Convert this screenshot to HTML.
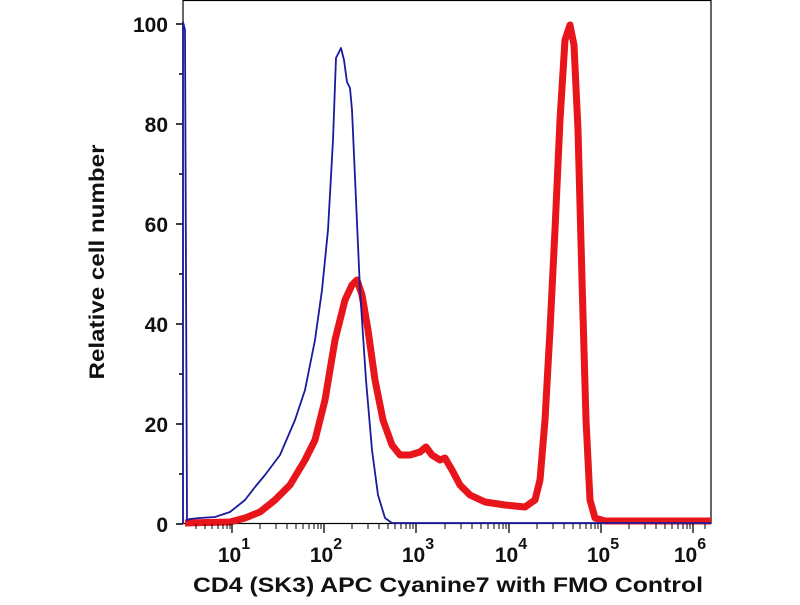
<!DOCTYPE html>
<html><head><style>
body{margin:0;background:#fff;}
svg text{font-family:"Liberation Sans",Arial,sans-serif;font-weight:bold;fill:#111;}
</style></head><body>
<svg width="800" height="600" viewBox="0 0 800 600" xmlns="http://www.w3.org/2000/svg">
<rect x="183" y="0.5" width="528" height="523" fill="none" stroke="#000" stroke-width="1.2"/>
<g stroke="#000" stroke-width="1.5">
<line x1="176" y1="24" x2="183" y2="24"/><line x1="176" y1="124" x2="183" y2="124"/>
<line x1="176" y1="224" x2="183" y2="224"/><line x1="176" y1="324" x2="183" y2="324"/>
<line x1="176" y1="424" x2="183" y2="424"/><line x1="176" y1="524" x2="183" y2="524"/>
<line x1="179" y1="74" x2="183" y2="74"/><line x1="179" y1="174" x2="183" y2="174"/>
<line x1="179" y1="274" x2="183" y2="274"/><line x1="179" y1="374" x2="183" y2="374"/>
<line x1="179" y1="474" x2="183" y2="474"/>
</g>
<g font-size="21" text-anchor="end">
<text x="168" y="32">100</text><text x="168" y="132">80</text><text x="168" y="232">60</text>
<text x="168" y="332">40</text><text x="168" y="432">20</text><text x="168" y="532">0</text>
</g>
<g font-size="21" text-anchor="middle">
<text x="234" y="562">10<tspan font-size="16" dy="-13">1</tspan></text>
<text x="326" y="562">10<tspan font-size="16" dy="-13">2</tspan></text>
<text x="418" y="562">10<tspan font-size="16" dy="-13">3</tspan></text>
<text x="511" y="562">10<tspan font-size="16" dy="-13">4</tspan></text>
<text x="603" y="562">10<tspan font-size="16" dy="-13">5</tspan></text>
<text x="690" y="562">10<tspan font-size="16" dy="-13">6</tspan></text>
</g>
<text x="193" y="592" font-size="21" textLength="510" lengthAdjust="spacingAndGlyphs">CD4 (SK3) APC Cyanine7 with FMO Control</text>
<text transform="translate(104,262) rotate(-90)" font-size="21" text-anchor="middle" textLength="235" lengthAdjust="spacingAndGlyphs">Relative cell number</text>
<path d="M185,523 L230,522 L245,518 L260,512 L275,500 L290,485 L305,460 L315,440 L325,400 L335,340 L345,300 L352,285 L357,280 L362,295 L368,330 L375,380 L383,420 L392,445 L400,455 L410,455 L420,452 L426,447 L432,455 L440,460 L445,458 L452,470 L460,485 L470,495 L485,502 L505,505 L525,507 L535,500 L540,480 L545,420 L550,330 L555,230 L560,120 L565,40 L570,25 L574,45 L578,130 L582,280 L586,420 L590,500 L595,518 L605,521 L711,521" fill="none" stroke="#e8151a" stroke-width="7" stroke-linejoin="round"/>
<path d="M183,524 L183,22 L185,30 L187,520 L190,519 L200,518 L215,517 L230,512 L245,500 L255,487 L265,475 L280,455 L295,420 L305,390 L315,340 L322,290 L328,230 L333,140 L336,58 L341,48 L344,60 L347,82 L350,88 L352,110 L356,200 L360,290 L366,380 L372,450 L378,495 L385,518 L392,523 L711,523" fill="none" stroke="#1a1a9a" stroke-width="1.8" stroke-linejoin="round"/>
<g stroke="#000" stroke-width="1.3">
<line x1="232" y1="524" x2="232" y2="533"/><line x1="324" y1="524" x2="324" y2="533"/>
<line x1="416" y1="524" x2="416" y2="533"/><line x1="509" y1="524" x2="509" y2="533"/>
<line x1="601" y1="524" x2="601" y2="533"/><line x1="693" y1="524" x2="693" y2="533"/>
</g>
<g stroke="#000" stroke-width="1">
<path d="M196,524v5M205,524v5M212,524v5M218,524v5M223,524v5M227,524v5M230,524v5
M260,524v5M276,524v5M287,524v5M296,524v5M303,524v5M309,524v5M314,524v5M318,524v5M321,524v5
M352,524v5M368,524v5M379,524v5M388,524v5M395,524v5M401,524v5M406,524v5M410,524v5M413,524v5
M445,524v5M461,524v5M472,524v5M481,524v5M488,524v5M494,524v5M499,524v5M503,524v5M506,524v5
M537,524v5M553,524v5M564,524v5M573,524v5M580,524v5M586,524v5M591,524v5M595,524v5M598,524v5
M629,524v5M645,524v5M656,524v5M665,524v5M672,524v5M678,524v5M683,524v5M687,524v5M690,524v5M705,524v5"/>
</g>
</svg>
</body></html>
